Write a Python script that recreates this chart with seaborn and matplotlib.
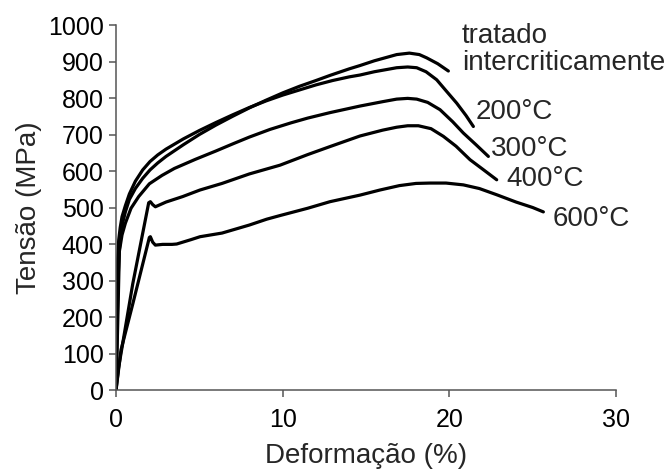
import matplotlib
matplotlib.use("Agg")
import matplotlib.pyplot as plt
import numpy as np
import pandas as pd
import seaborn as sns

# Stress-strain curves: strain (%) and stress (MPa) per heat treatment
labels = ["tratado\nintercriticamente", "200°C", "300°C", "400°C", "600°C"]

strain_ic = [0, 0.06, 0.12, 0.2, 0.3, 0.42, 0.56, 0.8, 1.16, 1.6, 2.04, 2.5,
             3.0, 4.04, 5.0, 6.0, 7.0, 8.0, 9.0, 10.0, 11.0, 12.0, 12.84, 14.0,
             14.64, 15.5, 16.84, 17.6, 18.2, 18.64, 19.3, 19.94]
stress_ic = [0, 150, 300, 385, 430, 462, 488, 522, 552, 580, 603, 622,
             640, 672, 700, 726, 750, 773, 794, 814, 832, 848, 862, 880,
             889, 902, 919, 923, 919, 910, 894, 874]

strain_200 = [0, 0.05, 0.1, 0.16, 0.25, 0.36, 0.56, 0.8, 1.16, 1.6, 2.04, 2.5,
              3.0, 4.04, 5.0, 6.0, 7.0, 8.0, 9.0, 10.0, 11.0, 12.0, 13.0,
              14.0, 14.64, 15.5, 16.84, 17.5, 18.04, 18.6, 19.24, 19.8,
              20.44, 21.0, 21.44]
stress_200 = [0, 180, 360, 411, 445, 475, 505, 537, 572, 603, 626, 644,
              660, 688, 711, 733, 754, 774, 792, 808, 822, 836, 848,
              858, 863, 872, 883, 885, 883, 872, 850, 820,
              786, 752, 722]

strain_300 = [0, 0.1, 0.2, 0.36, 0.56, 0.9, 1.36, 2.0, 2.76, 3.5, 4.76, 6.0,
              7.04, 8.0, 9.24, 10.5, 11.5, 12.84, 14.64, 16.0, 16.84, 17.5,
              18.04, 18.7, 19.44, 20.2, 20.84, 21.6, 22.34]
stress_300 = [0, 180, 380, 425, 457, 498, 530, 565, 588, 607, 632, 655,
              675, 693, 714, 732, 745, 760, 778, 790, 797, 799,
              797, 788, 768, 735, 704, 672, 640]

strain_400 = [0, 0.15, 1.0, 1.96, 2.06, 2.2, 2.36, 3.0, 4.0, 5.04, 6.36, 8.0,
              9.84, 11.5, 12.84, 14.64, 16.0, 16.84, 17.5, 18.14, 18.9, 19.64,
              20.4, 21.24, 22.0, 22.84]
stress_400 = [0, 60, 290, 513, 516, 508, 502, 515, 530, 548, 566, 592,
              616, 645, 667, 696, 712, 720, 724, 724, 716, 695,
              668, 631, 605, 576]

strain_600 = [0, 0.3, 1.0, 2.0, 2.06, 2.2, 2.36, 2.8, 3.36, 3.64, 4.5, 5.04,
              6.36, 8.0, 9.04, 9.84, 11.5, 12.84, 14.64, 15.84, 17.0, 18.0,
              18.84, 19.8, 20.84, 21.8, 22.84, 24.0, 25.0, 25.64]
stress_600 = [0, 110, 235, 418, 420, 405, 397, 399, 399, 400, 412, 420,
              430, 452, 468, 478, 498, 516, 534, 548, 560, 566,
              567, 567, 562, 552, 535, 515, 500, 488]

x_ticks = [0, 10, 20, 30]
y_ticks = [0, 100, 200, 300, 400, 500, 600, 700, 800, 900, 1000]

curves = [
    (labels[0], strain_ic, stress_ic),
    (labels[1], strain_200, stress_200),
    (labels[2], strain_300, stress_300),
    (labels[3], strain_400, stress_400),
    (labels[4], strain_600, stress_600),
]
df = pd.concat(
    [pd.DataFrame({"curve": name, "strain": s, "stress": t}) for name, s, t in curves],
    ignore_index=True,
)

sns.set_theme(style="ticks")
plt.rcParams["font.family"] = ["Liberation Sans", "DejaVu Sans"]

fig = plt.figure(figsize=(6.68, 4.72), dpi=100)
ax = fig.add_axes([0.1737, 0.1737, 0.7485, 0.7733])

sns.lineplot(
    data=df, x="strain", y="stress", hue="curve", palette=["black"] * 5,
    estimator=None, sort=False, legend=False, linewidth=2.3, ax=ax,
    solid_capstyle="round", solid_joinstyle="round",
)

ax.set_xlim(0, 30)
ax.set_ylim(0, 1000)
ax.set_xticks(x_ticks)
ax.set_yticks(y_ticks)
ax.tick_params(axis="both", labelsize=18, length=5, width=1.1, color="#555555",
               labelcolor="black", direction="out")
ax.tick_params(axis="x", pad=8)
ax.tick_params(axis="y", pad=4)
for side in ("left", "bottom"):
    ax.spines[side].set_color("#555555")
    ax.spines[side].set_linewidth(1.1)
sns.despine(ax=ax)

ax.set_xlabel("Deformação (%)", fontsize=20, labelpad=8)
ax.set_ylabel("Tensão (MPa)", fontsize=20, labelpad=4)

# curve labels at the end of each curve
ax.text(20.75, 934, labels[0], fontsize=20, ha="left", va="center", linespacing=1.05)
ax.text(21.6, 762, labels[1], fontsize=20, ha="left", va="center")
ax.text(22.5, 660, labels[2], fontsize=20, ha="left", va="center")
ax.text(23.4, 577, labels[3], fontsize=20, ha="left", va="center")
ax.text(26.2, 468, labels[4], fontsize=20, ha="left", va="center")
for t in ax.texts:
    t.set_clip_on(False)

fig.savefig("out.png", dpi=100)
